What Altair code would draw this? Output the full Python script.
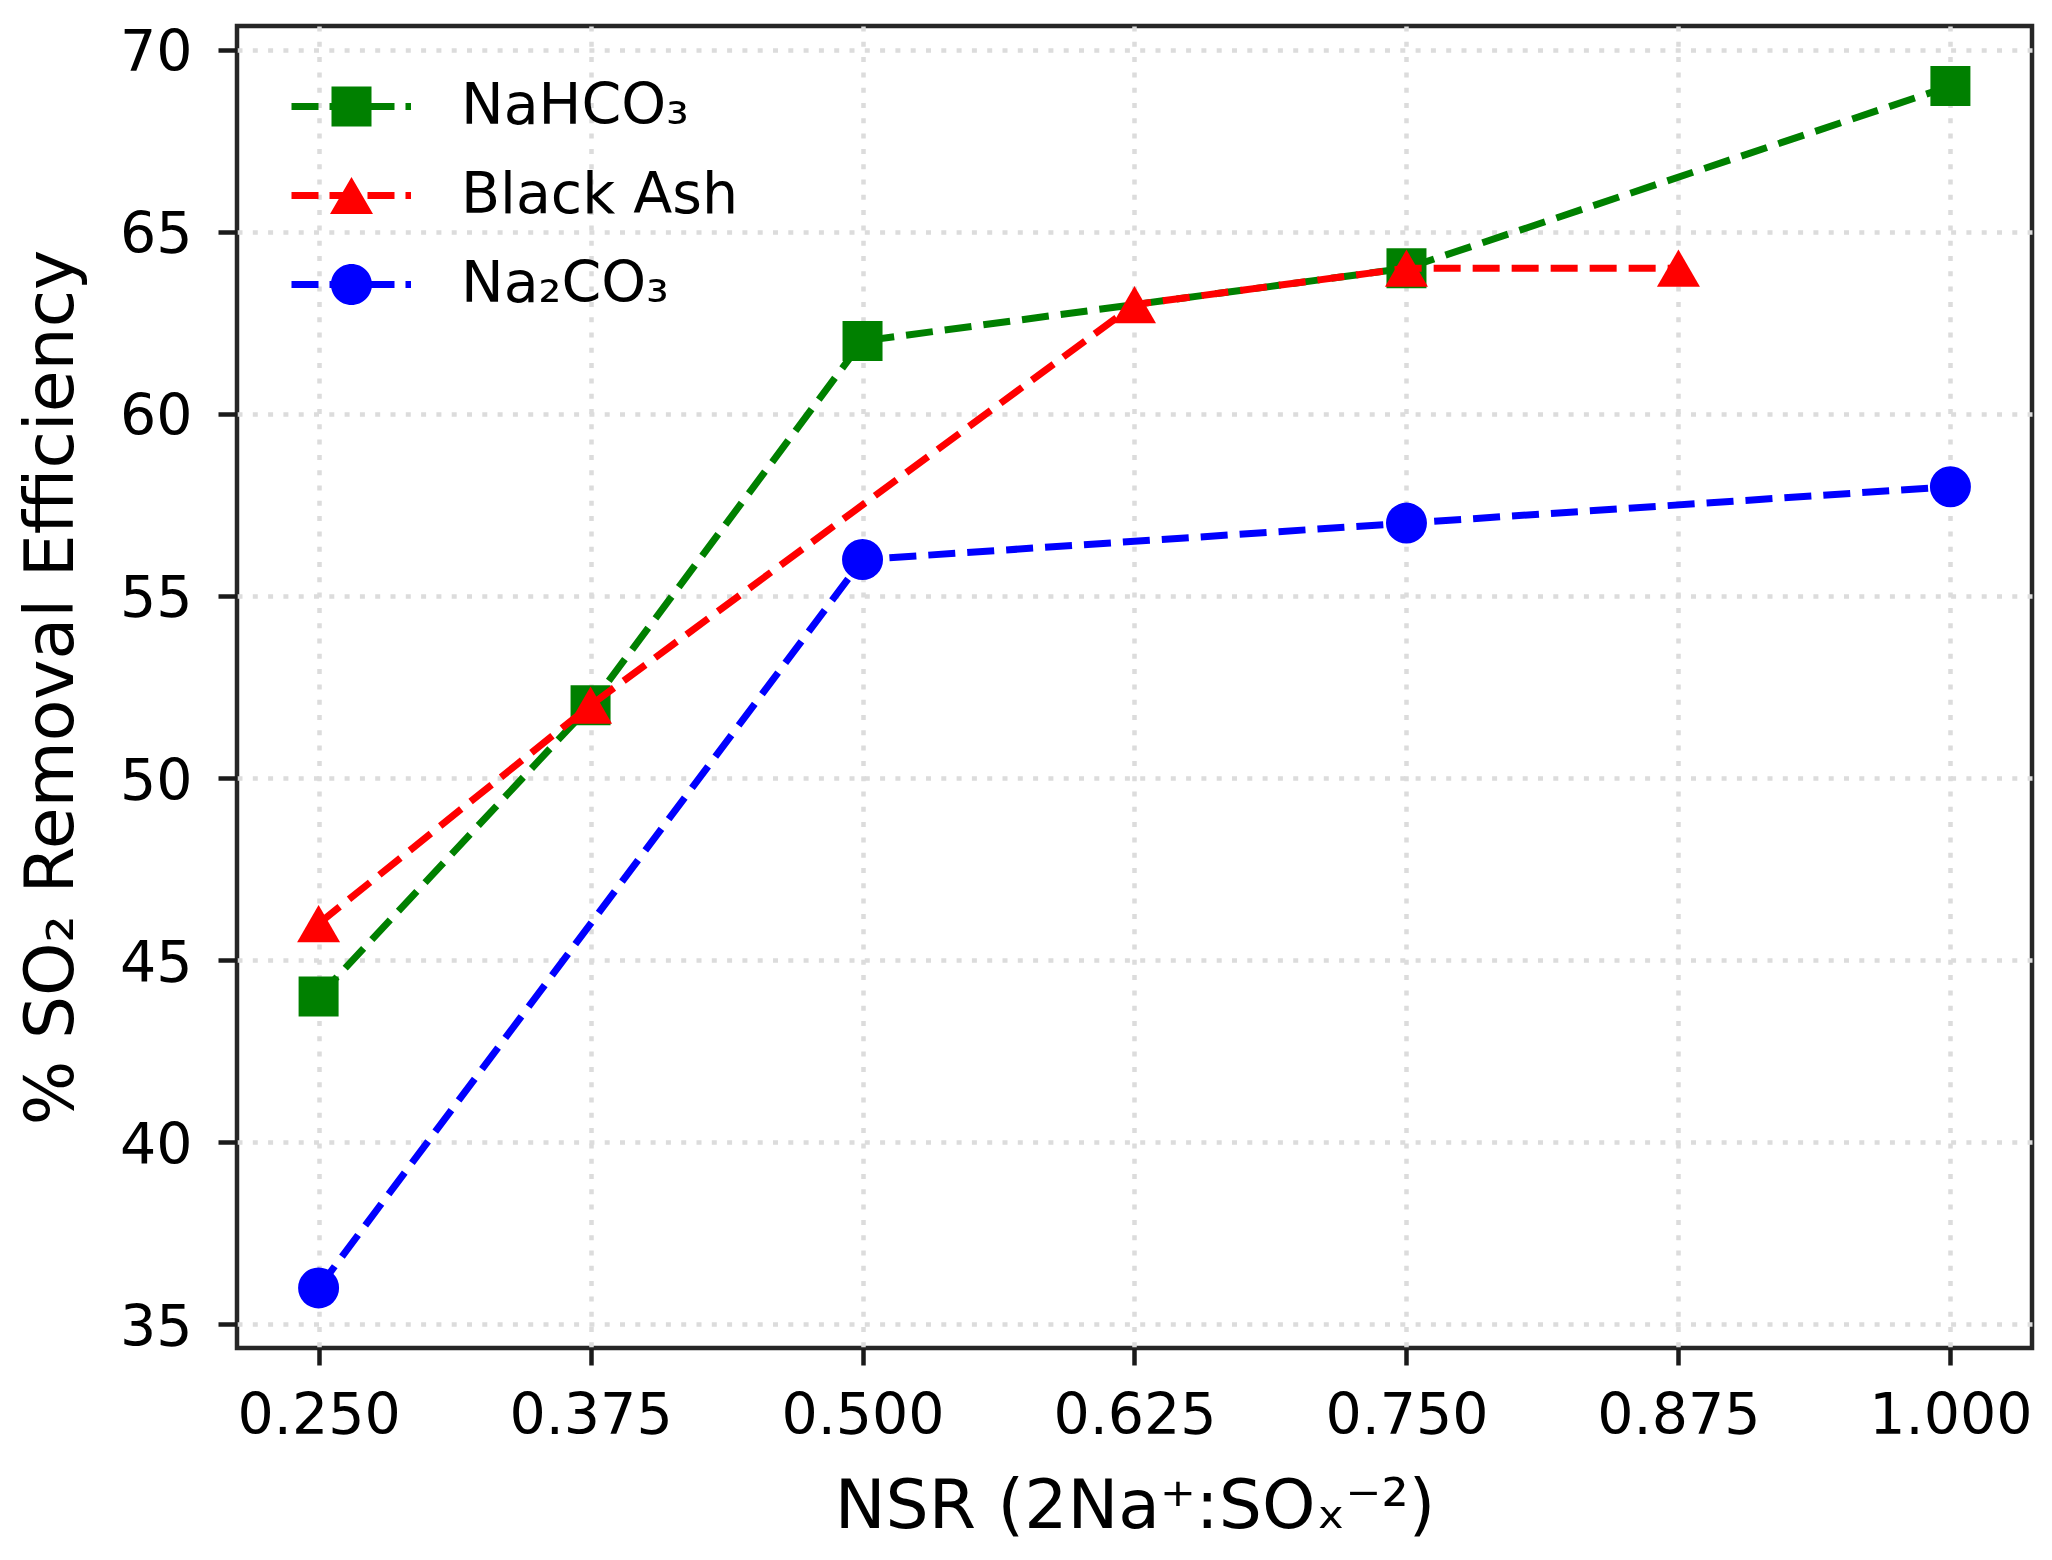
import altair as alt
import pandas as pd

# ---- data ----
series_names = ["NaHCO₃", "Black Ash", "Na₂CO₃"]
series_colors = ["#008000", "#ff0000", "#0000ff"]

nsr_nahco3 = [0.25, 0.375, 0.5, 0.75, 1.0]
eff_nahco3 = [44, 52, 62, 64, 69]

nsr_blackash = [0.25, 0.375, 0.625, 0.75, 0.875]
eff_blackash = [46, 52, 63, 64, 64]

nsr_na2co3 = [0.25, 0.5, 0.75, 1.0]
eff_na2co3 = [36, 56, 57, 58]

x_ticks = [0.25, 0.375, 0.5, 0.625, 0.75, 0.875, 1.0]
y_ticks = [35, 40, 45, 50, 55, 60, 65, 70]

rows = []
for name, xs, ys in [
    (series_names[0], nsr_nahco3, eff_nahco3),
    (series_names[1], nsr_blackash, eff_blackash),
    (series_names[2], nsr_na2co3, eff_na2co3),
]:
    for xv, yv in zip(xs, ys):
        rows.append({"series": name, "nsr": xv, "eff": yv})
df = pd.DataFrame(rows)

FONT = "DejaVu Sans"

# legend symbols: dashed line segment + marker (path units = px with symbolSize 4)
dash = "M-60,-3.5h27v7h-27Z M-22,-3.5h27v7h-27Z M16,-3.5h27v7h-27Z M54,-3.5h5.5v7h-5.5Z"
leg_square = dash + " M-20,-20h40v40h-40Z"
leg_triangle = dash + " M0,-18.6L21.5,18.6L-21.5,18.6Z"
leg_circle = dash + " M-20.5,0A20.5,20.5 0 1,1 20.5,0A20.5,20.5 0 1,1 -20.5,0Z"

color_scale = alt.Scale(domain=series_names, range=series_colors)
shape_scale = alt.Scale(domain=series_names, range=[leg_square, leg_triangle, leg_circle])

legend_def = alt.Legend(
    title=None,
    orient="none",
    legendX=86,
    legendY=52,
    padding=0,
    labelFontSize=57,
    labelFont=FONT,
    labelColor="black",
    labelOffset=81,
    labelLimit=0,
    rowPadding=31,
    symbolSize=4,
    symbolStrokeWidth=0,
    symbolOpacity=1,
)

x_enc = alt.X(
    "nsr:Q",
    scale=alt.Scale(domain=[0.2125, 1.0375], nice=False, zero=False),
    axis=alt.Axis(
        values=x_ticks,
        format=".3f",
        title="NSR (2Na⁺:SOₓ⁻²)",
        titleX=897.5,
        titleY=179,
        titleBaseline="alphabetic",
        titleAlign="center",
        tickSize=17,
        labelPadding=68,
        labelBaseline="alphabetic",
    ),
)
y_enc = alt.Y(
    "eff:Q",
    scale=alt.Scale(domain=[34.35, 70.65], nice=False, zero=False),
    axis=alt.Axis(
        values=y_ticks,
        title="% SO₂ Removal Efficiency",
        titleX=-165,
        titleY=661,
        titleAngle=-90,
        titleBaseline="alphabetic",
        titleAlign="center",
        tickSize=19,
        labelPadding=26,
        labelBaseline="alphabetic",
        labelOffset=21,
    ),
)
color_enc = alt.Color("series:N", scale=color_scale, legend=legend_def)

marker_shapes = ["square", "triangle-up", "circle"]
marker_sizes = [1600, 1849, 1681]

layers = []
for name, shp, sz in zip(series_names, marker_shapes, marker_sizes):
    base = alt.Chart(df).transform_filter(alt.datum.series == name)
    line = base.mark_line(strokeWidth=7, strokeDash=[27, 12]).encode(
        x=x_enc, y=y_enc, color=color_enc,
    )
    pts = base.mark_point(filled=True, shape=shp, size=sz, opacity=1, strokeWidth=0).encode(
        x=x_enc, y=y_enc, color=color_enc,
    )
    layers += [line, pts]

legend_layer = alt.Chart(df).mark_point(filled=True, opacity=0).encode(
    x=x_enc, y=y_enc,
    color=color_enc,
    shape=alt.Shape("series:N", scale=shape_scale, legend=legend_def),
)

chart = alt.layer(*layers, legend_layer).properties(
    width=1795,
    height=1322,
    background="white",
    autosize=alt.AutoSizeParams(type="none"),
    padding={"left": 229, "top": 18, "right": 12, "bottom": 200},
).configure_view(
    stroke="#262626",
    strokeWidth=4.5,
).configure_axis(
    domain=False,
    grid=True,
    gridColor="#dcdcdc",
    gridDash=[5, 10.3],
    gridWidth=4.5,
    tickColor="#1a1a1a",
    tickWidth=4.5,
    labelFont=FONT,
    labelFontSize=57,
    labelColor="black",
    titleFont=FONT,
    titleFontSize=68,
    titleFontWeight="normal",
    titleColor="black",
)

chart.save("out.html", embed_options={"renderer": "svg", "actions": False})
